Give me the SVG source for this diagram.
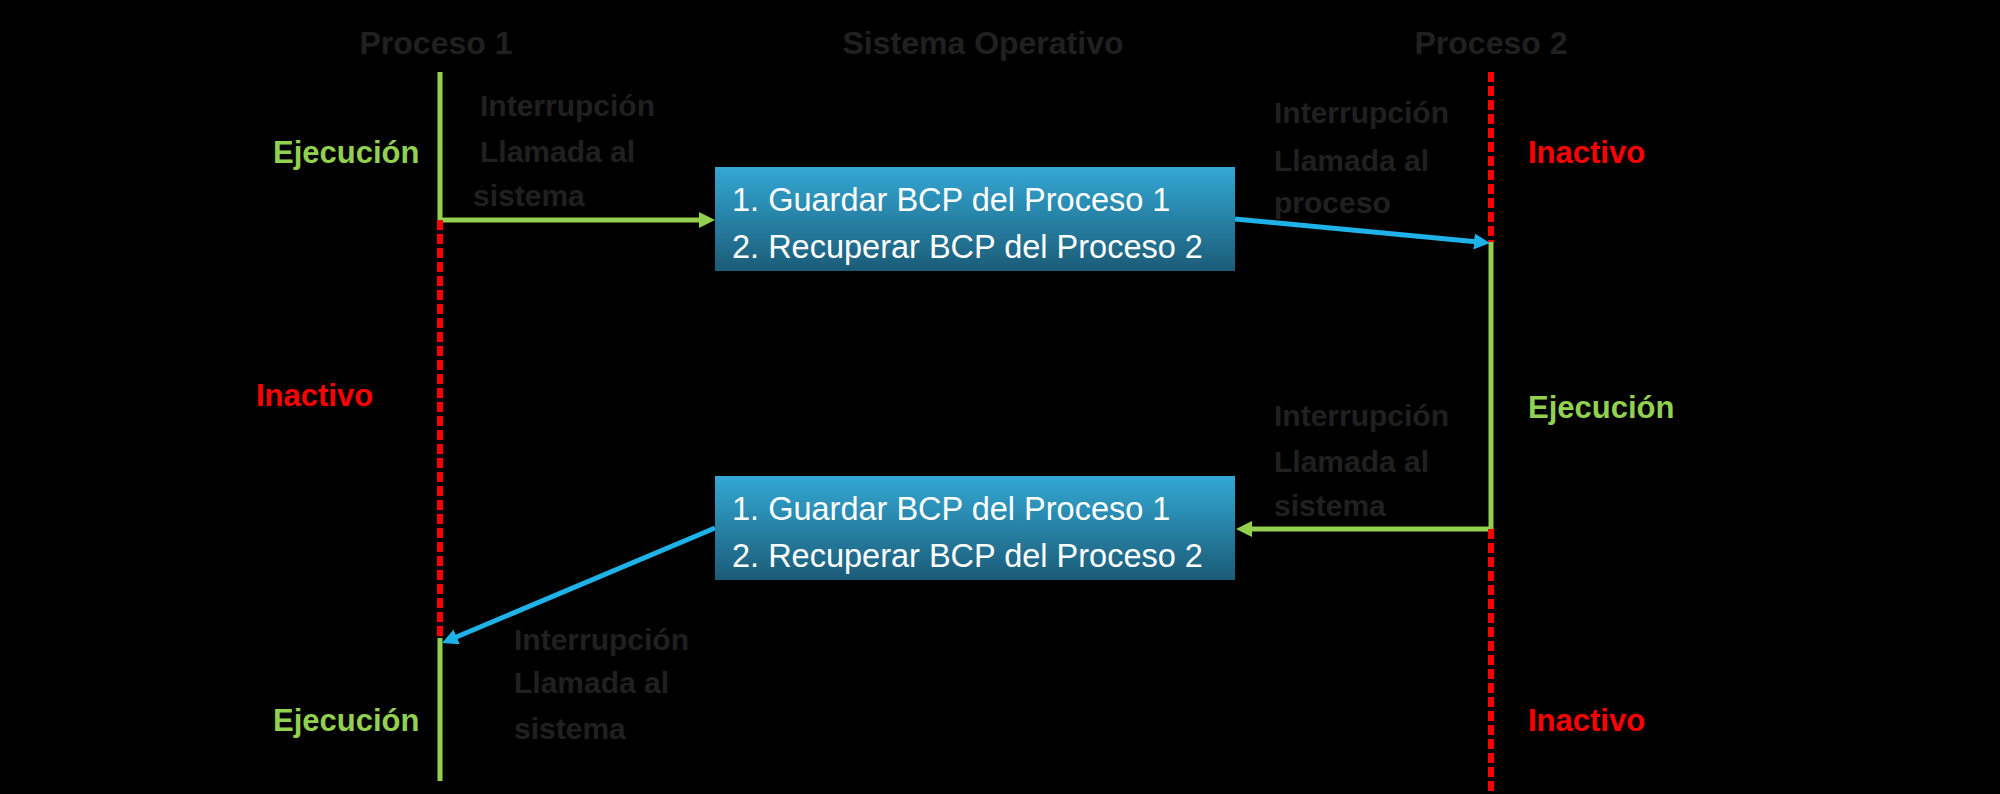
<svg xmlns="http://www.w3.org/2000/svg" width="2000" height="794" viewBox="0 0 2000 794">
<style>
.hdr{font-family:"Liberation Sans",Arial,sans-serif;font-weight:bold;font-size:32px;fill:#202020;text-anchor:middle}
.lbl{font-family:"Liberation Sans",Arial,sans-serif;font-weight:bold;font-size:30px;fill:#202020}
.st{font-family:"Liberation Sans",Arial,sans-serif;font-weight:bold;font-size:31px}
.ej{fill:#92d050}
.in{fill:#ff0000}
.bx{font-family:"Liberation Sans",Arial,sans-serif;font-size:32.5px;fill:#ffffff}
.g{stroke:#92d050;stroke-width:5;fill:none}
.r{stroke:#ff0000;stroke-width:6;fill:none;stroke-dasharray:10 4}
.b{stroke:#1fb2e8;stroke-width:5;fill:none}
</style>
<defs>
<linearGradient id="boxg" x1="0" y1="0" x2="0" y2="1">
<stop offset="0" stop-color="#33a8d4"/>
<stop offset="1" stop-color="#1b5b77"/>
</linearGradient>
<marker id="ag" viewBox="0 0 16 16" refX="10" refY="8" markerWidth="16" markerHeight="16" markerUnits="userSpaceOnUse" orient="auto"><path d="M0,0 L16,8 L0,16 z" fill="#92d050"/></marker>
<marker id="ab" viewBox="0 0 16 16" refX="10" refY="8" markerWidth="16" markerHeight="16" markerUnits="userSpaceOnUse" orient="auto"><path d="M0,0 L16,8 L0,16 z" fill="#1fb2e8"/></marker>
</defs>
<rect width="2000" height="794" fill="#000000"/>
<g id="headers">
<text class="hdr" x="436" y="54">Proceso 1</text>
<text class="hdr" x="983" y="54">Sistema Operativo</text>
<text class="hdr" x="1491" y="54">Proceso 2</text>
</g>
<g id="connectors">
<path class="g" d="M440,72 V220 H709" marker-end="url(#ag)"/>
<path class="r" d="M440,220 V638"/>
<path class="g" d="M440,638 V781"/>
<path class="r" d="M1491,72 V242"/>
<path class="g" d="M1491,242 V529 H1242" marker-end="url(#ag)"/>
<path class="r" d="M1491,529 V791"/>
<path class="b" d="M1235,219 L1484,242.4" marker-end="url(#ab)"/>
<path class="b" d="M715,528 L447.5,640.7" marker-end="url(#ab)"/>
</g>
<g id="box1">
<rect x="715" y="167" width="520" height="104" fill="url(#boxg)"/>
<text class="bx" x="732" y="211">1. Guardar BCP del Proceso 1</text>
<text class="bx" x="732" y="258">2. Recuperar BCP del Proceso 2</text>
</g>
<g id="box2">
<rect x="715" y="476" width="520" height="104" fill="url(#boxg)"/>
<text class="bx" x="732" y="520">1. Guardar BCP del Proceso 1</text>
<text class="bx" x="732" y="567">2. Recuperar BCP del Proceso 2</text>
</g>
<g id="states">
<text class="st ej" x="273" y="163">Ejecución</text>
<text class="st in" x="256" y="406">Inactivo</text>
<text class="st ej" x="273" y="731">Ejecución</text>
<text class="st in" x="1528" y="163">Inactivo</text>
<text class="st ej" x="1528" y="418">Ejecución</text>
<text class="st in" x="1528" y="731">Inactivo</text>
</g>
<g id="label-top-left">
<text class="lbl" x="480" y="116">Interrupción</text>
<text class="lbl" x="480" y="162">Llamada al</text>
<text class="lbl" x="473" y="206">sistema</text>
</g>
<g id="label-top-right">
<text class="lbl" x="1274" y="123">Interrupción</text>
<text class="lbl" x="1274" y="171">Llamada al</text>
<text class="lbl" x="1274" y="213">proceso</text>
</g>
<g id="label-mid-right">
<text class="lbl" x="1274" y="426">Interrupción</text>
<text class="lbl" x="1274" y="472">Llamada al</text>
<text class="lbl" x="1274" y="516">sistema</text>
</g>
<g id="label-bottom-left">
<text class="lbl" x="514" y="650">Interrupción</text>
<text class="lbl" x="514" y="693">Llamada al</text>
<text class="lbl" x="514" y="739">sistema</text>
</g>
</svg>
